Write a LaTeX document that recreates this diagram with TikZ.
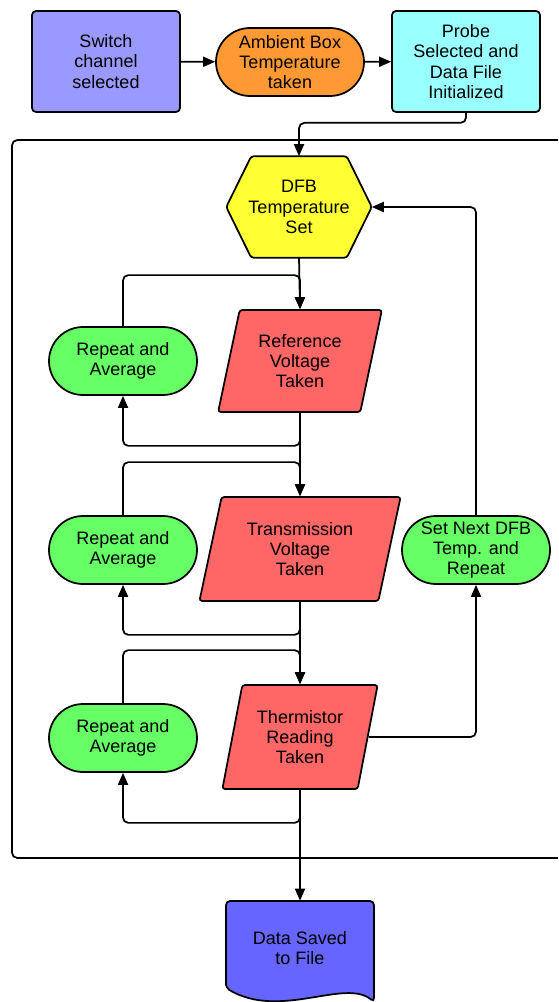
\documentclass[tikz,border=0pt]{standalone}
\usepackage{fontspec}
\setmainfont{Liberation Sans}
\usepackage{xcolor}
\usepackage{tikz}
\usetikzlibrary{shapes, shapes.geometric, arrows.meta, positioning, calc, backgrounds}

\definecolor{switchblue}{HTML}{9999FF}
\definecolor{ambientorange}{HTML}{FF9933}
\definecolor{probecyan}{HTML}{99FFFF}
\definecolor{hexyellow}{HTML}{FFFF33}
\definecolor{readred}{HTML}{FF6666}
\definecolor{repgreen}{HTML}{66FF66}
\definecolor{datablue}{HTML}{6666FF}

\tikzset{
    base/.style={draw, line width=1.3pt, align=center, inner sep=2pt,
        font=\fontsize{13.5}{15.2}\selectfont},
    procbox/.style={base, rectangle, rounded corners=3pt,
        minimum width=111pt, minimum height=75.75pt},
    termbox/.style={base, rectangle, rounded corners=25.5pt,
        minimum width=111pt, minimum height=51pt, fill=repgreen},
    iobox/.style={base, trapezium, trapezium left angle=75,
        trapezium right angle=105, trapezium stretches=true,
        rounded corners=2pt, fill=readred},
    textonly/.style={align=center, inner sep=0pt,
        font=\fontsize{13.5}{15.2}\selectfont},
    flow/.style={line width=1.3pt, rounded corners=4pt,
        -{Triangle[length=9pt,width=7.5pt]}},
    frameline/.style={line width=1.3pt, rounded corners=4pt},
}

\begin{document}
\begin{tikzpicture}[x=0.75pt, y=-0.75pt]
    \useasboundingbox (0,0) rectangle (558,1002);
    % Fila de arriba
    \node[procbox, fill=switchblue] (switch) at (106,61.5) {Switch\\channel\\selected};
    \node[termbox, fill=ambientorange] (ambient) at (290,62) {Ambient Box\\Temperature\\taken};
    \node[procbox, fill=probecyan] (probe) at (466,61.5) {Probe\\Selected and\\Data File\\Initialized};
    % Marco del ciclo
    \draw[frameline] (558,140) -- (12,140) -- (12,858) -- (558,858);
    % Columna central (hexagono dibujado por debajo del texto)
    \node[textonly, minimum width=108.75pt, minimum height=75.75pt] (hex) at (299,207) {DFB\\Temperature\\Set};
    \begin{scope}[on background layer]
        \draw[line width=1.3pt, rounded corners=2pt, fill=hexyellow] (hex.west)
            -- ([xshift=18.75pt]hex.north west) -- ([xshift=-18.75pt]hex.north east) -- (hex.east)
            -- ([xshift=-18.75pt]hex.south east) -- ([xshift=18.75pt]hex.south west) -- cycle;
    \end{scope}
    \node[iobox, minimum width=123pt, minimum height=76.5pt] (ref) at (300,361) {Reference\\Voltage\\Taken};
    \node[iobox, minimum width=151pt, minimum height=78pt] (trans) at (300,549) {Transmission\\Voltage\\Taken};
    \node[iobox, minimum width=117pt, minimum height=78pt] (therm) at (300,737) {Thermistor\\Reading\\Taken};
    % Repeticiones
    \node[termbox] (rep1) at (123,361) {Repeat and\\Average};
    \node[termbox] (rep2) at (123,550) {Repeat and\\Average};
    \node[termbox] (rep3) at (123,738) {Repeat and\\Average};
    \node[termbox] (next) at (476,550) {Set Next DFB\\Temp. and\\Repeat};
    % Documento final
    \draw[line width=1.3pt, rounded corners=3pt, fill=datablue] (226,988) -- (226,901) -- (374,901) -- (374,1002)
        .. controls (345,978) and (280,1020) .. (226,988) -- cycle;
    \node[textonly, minimum width=111pt, minimum height=70.5pt] (data) at (300,948) {Data Saved\\to File};
    % Flechas
    \draw[flow] (switch) -- (ambient);
    \draw[flow] (ambient) -- (probe);
    \draw[flow] (probe.south) -- ++(0,10) -| (hex.north);
    \draw[flow] (hex.south) -- (ref.north);
    \draw[flow] (ref.south) -- (trans.north);
    \draw[flow] (trans.south) -- (therm.north);
    \draw[flow] (therm.south) -- (data.north);
    \foreach \r/\m in {rep1/ref, rep2/trans, rep3/therm} {
        \draw[flow] (\r.north) |- ($(\m.north)+(0,-34)$) -- (\m.north);
        \draw[flow] (\m.south) -- ++(0,33) -| (\r.south);
    }
    \draw[flow] (therm.east) -| (next.south);
    \draw[flow] (next.north) |- (hex.east);
\end{tikzpicture}
\end{document}
